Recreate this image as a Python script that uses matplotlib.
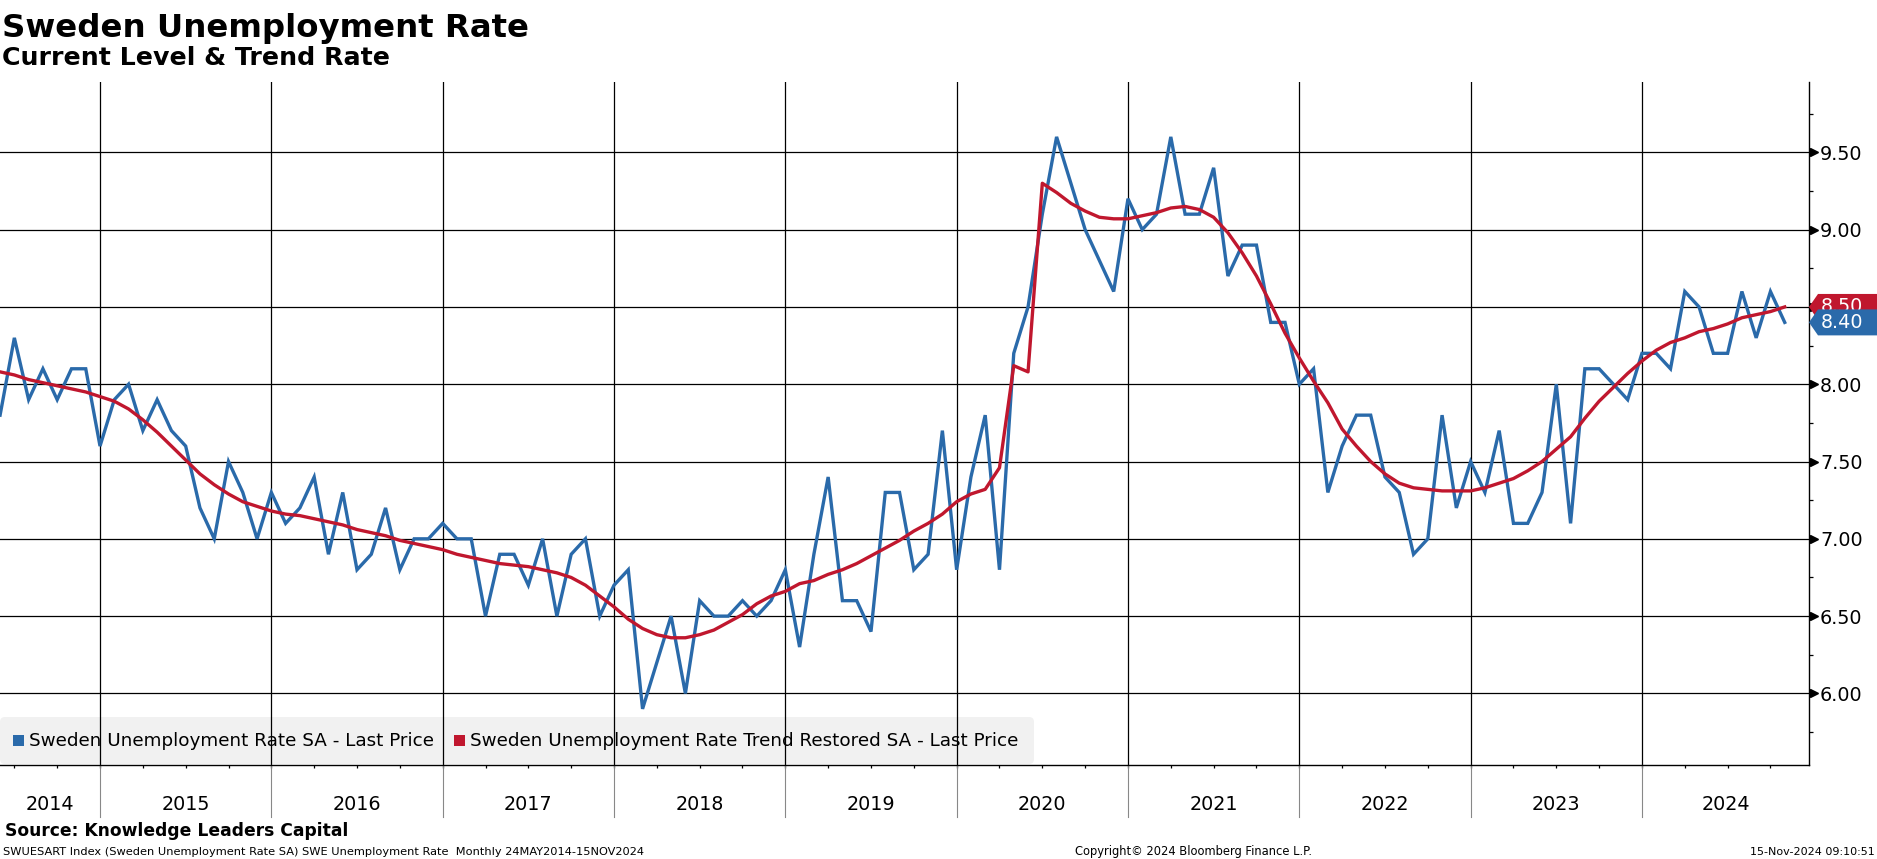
import numpy as np
import matplotlib
matplotlib.use("Agg")
import matplotlib.pyplot as plt
from matplotlib.patches import Polygon, FancyBboxPatch, Rectangle
from matplotlib.transforms import Affine2D

W, H = 1877, 859

# monthly readings, May 2014 .. Oct 2024 (month-end)
FIRST_YEAR, FIRST_MONTH = 2014, 5

SA_RATE = [
    7.8, 8.3, 7.9, 8.1, 7.9, 8.1, 8.1, 7.6,                      # 2014 May-Dec
    7.9, 8.0, 7.7, 7.9, 7.7, 7.6, 7.2, 7.0, 7.5, 7.3, 7.0, 7.3,  # 2015
    7.1, 7.2, 7.4, 6.9, 7.3, 6.8, 6.9, 7.2, 6.8, 7.0, 7.0, 7.1,  # 2016
    7.0, 7.0, 6.5, 6.9, 6.9, 6.7, 7.0, 6.5, 6.9, 7.0, 6.5, 6.7,  # 2017
    6.8, 5.9, 6.2, 6.5, 6.0, 6.6, 6.5, 6.5, 6.6, 6.5, 6.6, 6.8,  # 2018
    6.3, 6.9, 7.4, 6.6, 6.6, 6.4, 7.3, 7.3, 6.8, 6.9, 7.7, 6.8,  # 2019
    7.4, 7.8, 6.8, 8.2, 8.5, 9.1, 9.6, 9.3, 9.0, 8.8, 8.6, 9.2,  # 2020
    9.0, 9.1, 9.6, 9.1, 9.1, 9.4, 8.7, 8.9, 8.9, 8.4, 8.4, 8.0,  # 2021
    8.1, 7.3, 7.6, 7.8, 7.8, 7.4, 7.3, 6.9, 7.0, 7.8, 7.2, 7.5,  # 2022
    7.3, 7.7, 7.1, 7.1, 7.3, 8.0, 7.1, 8.1, 8.1, 8.0, 7.9, 8.2,  # 2023
    8.2, 8.1, 8.6, 8.5, 8.2, 8.2, 8.6, 8.3, 8.6, 8.4,            # 2024 Jan-Oct
]

TREND_RATE = [
    8.08, 8.06, 8.03, 8.01, 7.99, 7.97, 7.95, 7.92,
    7.89, 7.84, 7.77, 7.69, 7.60, 7.51, 7.42, 7.35, 7.29, 7.24, 7.21, 7.18,
    7.16, 7.15, 7.13, 7.11, 7.09, 7.06, 7.04, 7.02, 6.99, 6.97, 6.95, 6.93,
    6.90, 6.88, 6.86, 6.84, 6.83, 6.82, 6.80, 6.78, 6.75, 6.70, 6.63, 6.56,
    6.48, 6.42, 6.38, 6.36, 6.36, 6.38, 6.41, 6.46, 6.51, 6.58, 6.63, 6.66,
    6.71, 6.73, 6.77, 6.80, 6.84, 6.89, 6.94, 6.99, 7.05, 7.10, 7.16, 7.24,
    7.29, 7.32, 7.46, 8.12, 8.08, 9.30, 9.24, 9.17, 9.12, 9.08, 9.07, 9.07,
    9.09, 9.11, 9.14, 9.15, 9.13, 9.08, 8.98, 8.85, 8.70, 8.52, 8.33, 8.17,
    8.02, 7.88, 7.71, 7.60, 7.50, 7.42, 7.36, 7.33, 7.32, 7.31, 7.31, 7.31,
    7.33, 7.36, 7.39, 7.44, 7.50, 7.58, 7.66, 7.78, 7.89, 7.98, 8.07, 8.15,
    8.22, 8.27, 8.30, 8.34, 8.36, 8.39, 8.43, 8.45, 8.47, 8.50,
]

YEARS = list(range(2014, 2025))
YTICKS = [6.0, 6.5, 7.0, 7.5, 8.0, 8.5, 9.0, 9.5]

BLUE = "#2a6aaa"
RED = "#c0172e"
FONT = "DejaVu Sans"

plt.rcParams.update({"font.family": FONT})

t = FIRST_YEAR + (FIRST_MONTH + np.arange(len(SA_RATE))) / 12.0

fig = plt.figure(figsize=(W / 100, H / 100), dpi=100)
PX = Affine2D().scale(1 / W, -1 / H).translate(0, 1) + fig.transFigure

ax = fig.add_axes([0, (H - 765) / H, 1809 / W, (765 - 82) / H])
ax.set_xlim(2014.4162, 2024.975)
ax.set_ylim(5.537, 9.955)

# grid
for y in YTICKS:
    ax.axhline(y, color="black", lw=0.9, zorder=1)
for yr in YEARS[1:]:
    ax.axvline(yr, color="black", lw=0.9, zorder=1)

ax.plot(t, SA_RATE, color=BLUE, lw=2.4, zorder=3, solid_joinstyle="miter")
ax.plot(t, TREND_RATE, color=RED, lw=2.4, zorder=4)

for side in ("left", "top"):
    ax.spines[side].set_visible(False)
for side in ("right", "bottom"):
    ax.spines[side].set_linewidth(1.0)

# y axis on the right
ax.yaxis.tick_right()
ax.set_yticks(YTICKS)
ax.set_yticklabels([f"{v:.2f}" for v in YTICKS])
ax.set_yticks(np.arange(5.75, 9.8, 0.5), minor=True)
ax.tick_params(axis="y", which="major", length=0, pad=8, labelsize=13.8)
ax.tick_params(axis="y", which="minor", length=3, width=0.9, direction="out")
ax.plot([1.0025] * len(YTICKS), YTICKS, marker=">", ls="none", ms=6,
        color="black", transform=ax.get_yaxis_transform(), clip_on=False,
        zorder=6)

# x axis: quarterly ticks, year separators, centred year labels
ax.set_xticks([])
quarters = [q for q in np.arange(2014.5, 2025.0, 0.25) if q < 2024.975]
ax.set_xticks(quarters, minor=True)
ax.tick_params(axis="x", which="minor", length=2.5, width=0.9, direction="out")
for yr in YEARS[1:]:
    ax.plot([yr, yr], [0, -52 / 683], color="#888888", lw=0.8,
            transform=ax.get_xaxis_transform(), clip_on=False)
lo, hi = ax.get_xlim()
for yr in YEARS:
    c = (max(yr, lo) + min(yr + 1, hi)) / 2
    ax.text(c, -39 / 683, str(yr), ha="center", va="center", fontsize=13.8,
            transform=ax.get_xaxis_transform())

# legend strip
leg = FancyBboxPatch((0, 717), 1034, 47, boxstyle="round,pad=0,rounding_size=5",
                     transform=PX, facecolor="#f1f1f1", edgecolor="none",
                     zorder=0.8)
ax.add_patch(leg)
ax.add_patch(Rectangle((13, 735), 11, 11, transform=PX, facecolor=BLUE,
                       edgecolor="none", zorder=0.9))
ax.add_patch(Rectangle((454, 735), 11, 11, transform=PX, facecolor=RED,
                       edgecolor="none", zorder=0.9))
ax.text(29, 741, "Sweden Unemployment Rate SA - Last Price", transform=PX,
        fontsize=13.2, va="center", ha="left", zorder=0.9)
ax.text(470, 741, "Sweden Unemployment Rate Trend Restored SA - Last Price",
        transform=PX, fontsize=13.2, va="center", ha="left", zorder=0.9)

# last-value tags
yt = ax.get_yaxis_transform()
for val, col, z in ((TREND_RATE[-1], RED, 7), (SA_RATE[-1], BLUE, 9)):
    h = 0.084
    x0, x1, x2 = 1.0, 1.0 + 9 / 1809, W / 1809
    poly = Polygon([(x0, val), (x1, val + h), (x2, val + h), (x2, val - h),
                    (x1, val - h)], closed=True, facecolor=col,
                   edgecolor="none", transform=yt, clip_on=False, zorder=z)
    ax.add_patch(poly)
    ax.text(1.0065, val, f"{val:.2f}", color="white", fontsize=13.8,
            va="center", ha="left", transform=yt, zorder=z + 1, clip_on=False)

# titles and footer
fig.text(2, 37, "Sweden Unemployment Rate", transform=PX, fontsize=23.3,
         fontweight="bold", va="baseline")
fig.text(2, 65, "Current Level & Trend Rate", transform=PX, fontsize=18.2,
         fontweight="bold", va="baseline")
fig.text(5, 836, "Source: Knowledge Leaders Capital", transform=PX,
         fontsize=12.3, fontweight="bold", va="baseline")
fig.text(3, 855, "SWUESART Index (Sweden Unemployment Rate SA) SWE Unemployment "
         "Rate  Monthly 24MAY2014-15NOV2024", transform=PX, fontsize=8.2,
         va="baseline")
fig.text(1075, 855, "Copyright\u00a9 2024 Bloomberg Finance L.P.", transform=PX,
         fontsize=8.3, va="baseline")
fig.text(1875, 855, "15-Nov-2024 09:10:51", transform=PX, fontsize=8.0,
         va="baseline", ha="right")

fig.savefig("out.png", dpi=100)
